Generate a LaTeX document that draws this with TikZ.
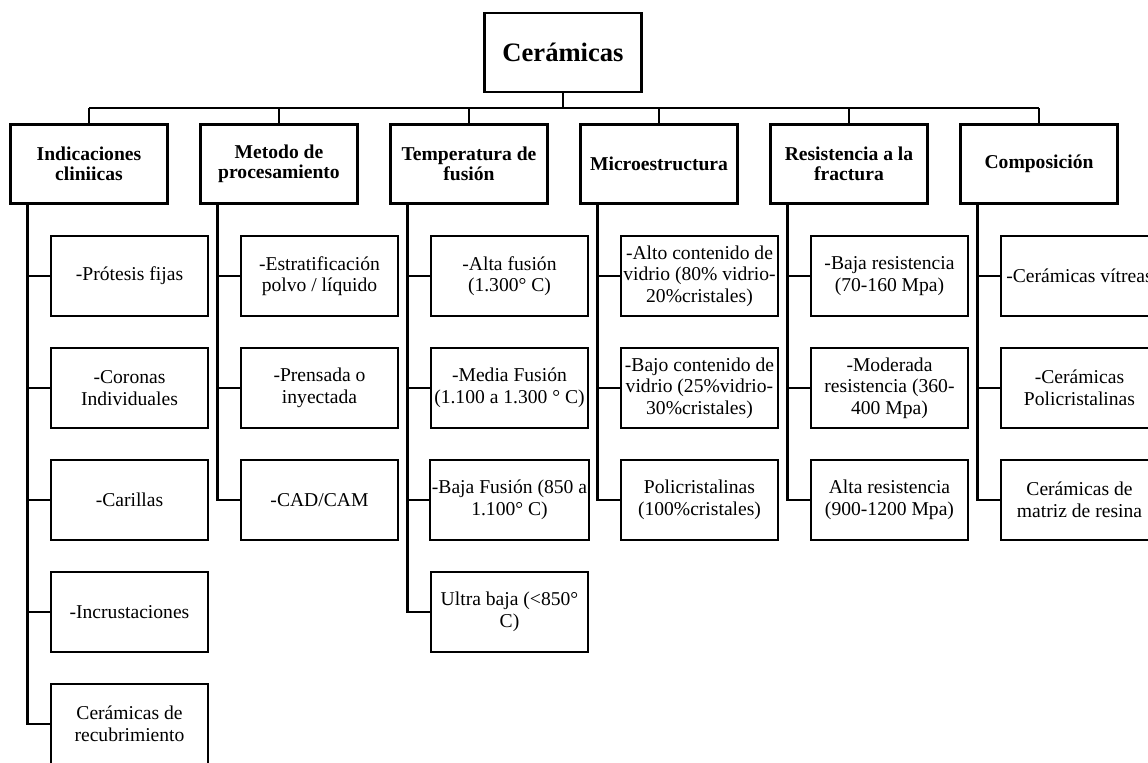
\documentclass[tikz,border=0pt]{standalone}
\usepackage{fontspec}
\setmainfont{Liberation Serif}
\begin{document}
\begin{tikzpicture}[x=0.5pt, y=-0.5pt, line width=1.1pt,
	leafbox/.style={draw, minimum width=78.5pt, minimum height=40pt, inner sep=1pt, align=center, font=\fontsize{9.8}{10.8}\selectfont},
	headbox/.style={leafbox, minimum height=39.5pt, font=\fontsize{9.8}{10.2}\selectfont\bfseries},
	rootbox/.style={leafbox, minimum height=39.5pt, font=\fontsize{13.3}{15}\selectfont\bfseries}]
				\useasboundingbox (0,0) rectangle (1148,763);

				% Root
				\node[rootbox] (cer) at (563,52.5) {Cerámicas};
				\coordinate (bus) at (563,108);

				% Headings
				\node[headbox] (ind) at (89,164) {Indicaciones\\cliniicas};
				\node[headbox] (met) at (279,164) {Metodo de\\procesamiento};
				\node[headbox] (tem) at (469,164) {Temperatura de\\fusión};
				\node[headbox] (mic) at (659,164) {Microestructura};
				\node[headbox] (res) at (849,164) {Resistencia a la\\fractura};
				\node[headbox] (com) at (1039,164) {Composición};

				\draw (cer.south) -- (bus);
				\draw (ind.north |- bus) -- (com.north |- bus);
				\draw (ind.north) -- (ind.north |- bus);
				\draw (met.north) -- (met.north |- bus);
				\draw (tem.north) -- (tem.north |- bus);
				\draw (mic.north) -- (mic.north |- bus);
				\draw (res.north) -- (res.north |- bus);
				\draw (com.north) -- (com.north |- bus);

				% Indicaciones cliniicas
				\node[leafbox] (ind1) at (129.5,276) {-Prótesis fijas};
				\node[leafbox] (ind2) at (129.5,388) {-Coronas\\Individuales};
				\node[leafbox] (ind3) at (129.5,500) {-Carillas};
				\node[leafbox] (ind4) at (129.5,612) {-Incrustaciones};
				\node[leafbox] (ind5) at (129.5,724) {Cerámicas de\\recubrimiento};
				\foreach \n in {ind1,ind2,ind3,ind4,ind5}
					\draw (\n.west) -| ([xshift=9pt]ind.south west);

				% Metodo de procesamiento
				\node[leafbox] (met1) at (319.5,276) {-Estratificación\\polvo / líquido};
				\node[leafbox] (met2) at (319.5,388) {-Prensada o\\inyectada};
				\node[leafbox] (met3) at (319.5,500) {-CAD/CAM};
				\foreach \n in {met1,met2,met3}
					\draw (\n.west) -| ([xshift=9pt]met.south west);

				% Temperatura de fusion
				\node[leafbox] (tem1) at (509.5,276) {-Alta fusión\\(1.300° C)};
				\node[leafbox] (tem2) at (509.5,388) {-Media Fusión\\(1.100 a 1.300 ° C)};
				\node[leafbox] (tem3) at (509.5,500) {-Baja Fusión (850 a\\1.100° C)};
				\node[leafbox] (tem4) at (509.5,612) {Ultra baja (<850°\\C)};
				\foreach \n in {tem1,tem2,tem3,tem4}
					\draw (\n.west) -| ([xshift=9pt]tem.south west);

				% Microestructura
				\node[leafbox] (mic1) at (699.5,276) {-Alto contenido de\\vidrio (80\% vidrio-\\20\%cristales)};
				\node[leafbox] (mic2) at (699.5,388) {-Bajo contenido de\\vidrio (25\%vidrio-\\30\%cristales)};
				\node[leafbox] (mic3) at (699.5,500) {Policristalinas\\(100\%cristales)};
				\foreach \n in {mic1,mic2,mic3}
					\draw (\n.west) -| ([xshift=9pt]mic.south west);

				% Resistencia a la fractura
				\node[leafbox] (res1) at (889.5,276) {-Baja resistencia\\(70-160 Mpa)};
				\node[leafbox] (res2) at (889.5,388) {-Moderada\\resistencia (360-\\400 Mpa)};
				\node[leafbox] (res3) at (889.5,500) {Alta resistencia\\(900-1200 Mpa)};
				\foreach \n in {res1,res2,res3}
					\draw (\n.west) -| ([xshift=9pt]res.south west);

				% Composicion
				\node[leafbox] (com1) at (1079.5,276) {-Cerámicas vítreas};
				\node[leafbox] (com2) at (1079.5,388) {-Cerámicas\\Policristalinas};
				\node[leafbox] (com3) at (1079.5,500) {Cerámicas de\\matriz de resina};
				\foreach \n in {com1,com2,com3}
					\draw (\n.west) -| ([xshift=9pt]com.south west);
			\end{tikzpicture}
\end{document}
